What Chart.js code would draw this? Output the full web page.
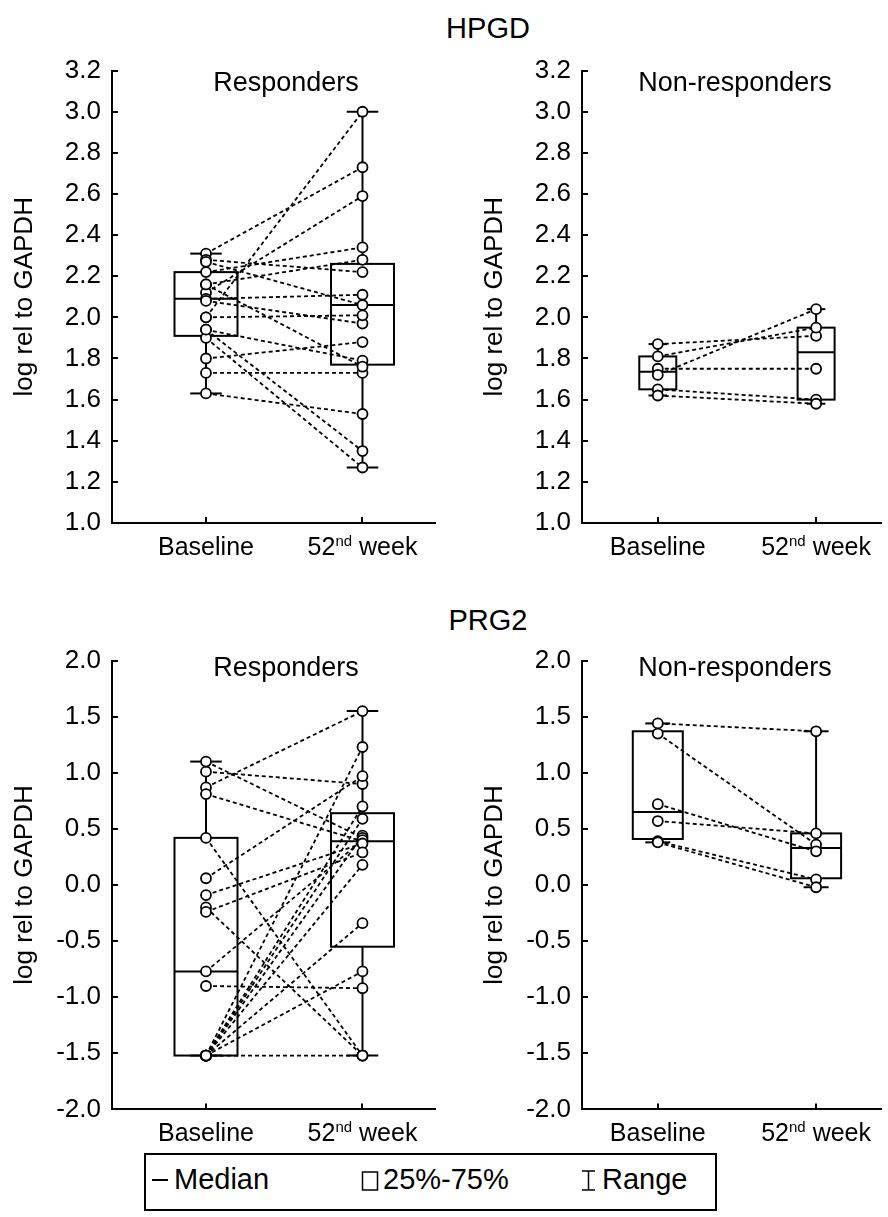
<!DOCTYPE html>
<html><head><meta charset="utf-8">
<script src="https://cdn.jsdelivr.net/npm/chart.js@4.4.1/dist/chart.umd.min.js"></script>
<style>
html,body{margin:0;padding:0;background:#fff;}
body{width:888px;height:1217px;position:relative;overflow:hidden;font-family:"Liberation Sans",Arial,sans-serif;}
canvas{position:absolute;}
svg{position:absolute;left:0;top:0;}
</style></head><body>
<svg width="888" height="1217" xmlns="http://www.w3.org/2000/svg" font-family="Liberation Sans, Arial, sans-serif" fill="#000">
  <text x="488" y="38" font-size="29" text-anchor="middle">HPGD</text>
  <text x="488" y="630" font-size="29" text-anchor="middle">PRG2</text>
  <rect x="145" y="1154" width="571" height="56" fill="none" stroke="#000" stroke-width="2"/>
  <line x1="152" y1="1180" x2="168" y2="1180" stroke="#000" stroke-width="2"/>
  <text x="174" y="1189" font-size="29">Median</text>
  <rect x="362.5" y="1172" width="15" height="18" fill="none" stroke="#000" stroke-width="1.5"/>
  <text x="383" y="1189" font-size="29">25%-75%</text>
  <path d="M582 1171 H595 M588.5 1171 V1190 M582 1190 H595" stroke="#000" stroke-width="1.5" fill="none"/>
  <text x="602" y="1189" font-size="29">Range</text>
</svg>
<canvas id="c1" width="444" height="532" style="left:0;top:38px"></canvas>
<canvas id="c2" width="418" height="532" style="left:470px;top:38px"></canvas>
<canvas id="c3" width="444" height="530" style="left:0;top:628px"></canvas>
<canvas id="c4" width="418" height="530" style="left:470px;top:628px"></canvas>
<script>
// ---------- data ----------
const categories = ['Baseline', '52nd week'];
const hpgdTicks = [1.0, 1.2, 1.4, 1.6, 1.8, 2.0, 2.2, 2.4, 2.6, 2.8, 3.0, 3.2];
const prg2Ticks = [-2.0, -1.5, -1.0, -0.5, 0.0, 0.5, 1.0, 1.5, 2.0];

// HPGD responders (paired)
const hpgdRespBaseline = [2.31, 2.28, 2.27, 2.22, 2.16, 2.12, 2.09, 2.08, 2.00, 2.00, 1.94, 1.90, 1.94, 1.80, 1.73, 1.63, 2.16];
const hpgdResp52       = [2.73, 2.22, 2.06, 2.34, 2.28, 2.59, 2.11, 1.97, 3.00, 2.01, 1.35, 1.27, 1.79, 1.88, 1.73, 1.53, 1.76];
const hpgdRespQ1 = [1.91, 1.77];
const hpgdRespMedian = [2.09, 2.06];
const hpgdRespQ3 = [2.22, 2.26];

// HPGD non-responders
const hpgdNonBaseline = [1.87, 1.81, 1.75, 1.72, 1.65, 1.62];
const hpgdNon52       = [1.91, 1.95, 1.75, 2.04, 1.60, 1.58];
const hpgdNonQ1 = [1.65, 1.60];
const hpgdNonMedian = [1.735, 1.83];
const hpgdNonQ3 = [1.81, 1.95];

// PRG2 responders
const prgRespBaseline = [-1.52, -1.52, -1.52, -1.52, -1.52, -1.52, -1.52, -1.52, 0.87, 1.01, 0.06, 1.10, 0.81, 0.42, -0.20, -0.90, -0.77, -0.09, -0.24];
const prgResp52       = [-1.52, -0.34, -0.77, 1.23, 0.70, 0.59, 0.44, 0.18, 1.55, 0.90, 0.97, 0.42, 0.39, -1.52, -1.52, -0.92, 0.40, 0.37, 0.29];
const prgRespQ1 = [-1.52, -0.55];
const prgRespMedian = [-0.77, 0.39];
const prgRespQ3 = [0.42, 0.64];

// PRG2 non-responders
const prgNonBaseline = [1.44, 1.35, 0.72, 0.57, 0.39, 0.38];
const prgNon52       = [1.37, 0.36, 0.30, 0.46, 0.05, -0.02];
const prgNonQ1 = [0.41, 0.06];
const prgNonMedian = [0.65, 0.33];
const prgNonQ3 = [1.37, 0.46];

// ---------- plugins ----------
const FONT = 'Liberation Sans, Arial, sans-serif';

const boxPlugin = {
  id: 'boxes',
  beforeDatasetsDraw(chart, args, o) {
    const {ctx} = chart, xs = chart.scales.x, ys = chart.scales.y;
    ctx.save();
    ctx.strokeStyle = '#000'; ctx.lineWidth = 2; ctx.setLineDash([]);
    const ln = (a, b, c, d) => { ctx.beginPath(); ctx.moveTo(a, b); ctx.lineTo(c, d); ctx.stroke(); };
    o.q1.forEach((q1, i) => {
      const cx = xs.getPixelForValue(i), hw = o.width / 2;
      const top = ys.getPixelForValue(o.q3[i]), bot = ys.getPixelForValue(q1);
      const med = ys.getPixelForValue(o.median[i]);
      const hi = ys.getPixelForValue(o.max[i]), lo = ys.getPixelForValue(o.min[i]);
      ln(cx, top, cx, hi); ln(cx, bot, cx, lo);
      ln(cx - hw / 2, hi, cx + hw / 2, hi); ln(cx - hw / 2, lo, cx + hw / 2, lo);
      ctx.strokeRect(cx - hw, top, 2 * hw, bot - top);
      ln(cx - hw, med, cx + hw, med);
    });
    ctx.restore();
  }
};

const textPlugin = {
  id: 'texts',
  afterDraw(chart, args, o) {
    const {ctx, chartArea} = chart, xs = chart.scales.x;
    ctx.save();
    ctx.fillStyle = '#000'; ctx.textBaseline = 'alphabetic';
    ctx.font = `27px ${FONT}`; ctx.textAlign = 'center';
    ctx.fillText(o.subtitle, o.subX, chartArea.top + o.subDy);
    const yb = chartArea.bottom + 32;
    categories.forEach((lab, i) => {
      const cx = xs.getPixelForValue(i);
      const m = lab.match(/^(\d+)(st|nd|rd|th)(.*)$/);
      ctx.textAlign = 'left';
      if (m) {
        ctx.font = `25px ${FONT}`; const w1 = ctx.measureText(m[1]).width;
        const w3 = ctx.measureText(m[3]).width;
        ctx.font = `15px ${FONT}`; const w2 = ctx.measureText(m[2]).width;
        let x = cx - (w1 + w2 + w3) / 2;
        ctx.font = `25px ${FONT}`; ctx.fillText(m[1], x, yb); x += w1;
        ctx.font = `15px ${FONT}`; ctx.fillText(m[2], x, yb - 9); x += w2;
        ctx.font = `25px ${FONT}`; ctx.fillText(m[3], x, yb);
      } else {
        ctx.font = `25px ${FONT}`; ctx.textAlign = 'center';
        ctx.fillText(lab, cx, yb);
      }
    });
    ctx.restore();
  }
};

function makePanel(id, p) {
  const lines = p.base.map((b, i) => ({
    type: 'line',
    data: [{x: 0, y: b}, {x: 1, y: p.wk[i]}],
    borderColor: '#000', borderWidth: 1.8, borderDash: [4, 3],
    pointRadius: 0, fill: false, tension: 0, order: 2
  }));
  const pts = {
    type: 'scatter',
    data: p.base.map(b => ({x: 0, y: b})).concat(p.wk.map(w => ({x: 1, y: w}))),
    pointRadius: 5, pointBackgroundColor: '#fff', pointBorderColor: '#000',
    pointBorderWidth: 1.8, showLine: false, order: 0
  };
  new Chart(document.getElementById(id), {
    type: 'scatter',
    data: {datasets: [...lines, pts]},
    options: {
      responsive: false, animation: false, devicePixelRatio: 1,
      layout: {padding: {top: p.padTop, right: p.padRight, left: 0, bottom: 0}},
      plugins: {
        legend: {display: false}, tooltip: {enabled: false},
        boxes: {
          q1: p.q1, median: p.median, q3: p.q3, width: p.boxW,
          min: [Math.min(...p.base), Math.min(...p.wk)],
          max: [Math.max(...p.base), Math.max(...p.wk)]
        },
        texts: {subtitle: p.subtitle, subX: p.subX, subDy: p.subDy}
      },
      scales: {
        x: {
          type: 'linear', min: p.xmin, max: p.xmax,
          afterBuildTicks: a => { a.ticks = categories.map((c, i) => ({value: i})); },
          ticks: {display: false},
          grid: {drawOnChartArea: false, drawTicks: true, tickLength: -6, color: '#000', lineWidth: 2},
          border: {color: '#000', width: 2},
          afterFit: a => { a.height = p.xh; }
        },
        y: {
          type: 'linear', min: p.ticks[0], max: p.ticks[p.ticks.length - 1],
          afterBuildTicks: a => { a.ticks = p.ticks.map(v => ({value: v})); },
          ticks: {callback: v => Number(v).toFixed(1), font: {size: 26, family: FONT}, color: '#000', padding: 17, autoSkip: false, maxRotation: 0},
          grid: {drawOnChartArea: false, drawTicks: true, tickLength: -6, color: '#000', lineWidth: 2},
          border: {color: '#000', width: 2},
          title: {display: true, text: 'log rel to GAPDH', font: {size: 26, family: FONT}, color: '#000', padding: {top: 9, bottom: 0}},
          afterFit: a => { a.width = 112; }
        }
      }
    },
    plugins: [boxPlugin, textPlugin]
  });
}

const LEFT = {xmin: -0.6006, xmax: 1.4633, padRight: 9, boxW: 63, subtitle: 'Responders', subX: 286};
const RIGHT = {xmin: -0.4787, xmax: 1.4112, padRight: 4, subtitle: 'Non-responders', subX: 265};
const TOP = {padTop: 15.6, xh: 47, ticks: hpgdTicks, subDy: 20};
const BOT = {padTop: 16.1, xh: 48.6, ticks: prg2Ticks, subDy: 15};

makePanel('c1', {...LEFT, ...TOP, base: hpgdRespBaseline, wk: hpgdResp52, q1: hpgdRespQ1, median: hpgdRespMedian, q3: hpgdRespQ3});
makePanel('c2', {...RIGHT, ...TOP, boxW: 37, base: hpgdNonBaseline, wk: hpgdNon52, q1: hpgdNonQ1, median: hpgdNonMedian, q3: hpgdNonQ3});
makePanel('c3', {...LEFT, ...BOT, base: prgRespBaseline, wk: prgResp52, q1: prgRespQ1, median: prgRespMedian, q3: prgRespQ3});
makePanel('c4', {...RIGHT, ...BOT, boxW: 50, base: prgNonBaseline, wk: prgNon52, q1: prgNonQ1, median: prgNonMedian, q3: prgNonQ3});
</script>
</body></html>
